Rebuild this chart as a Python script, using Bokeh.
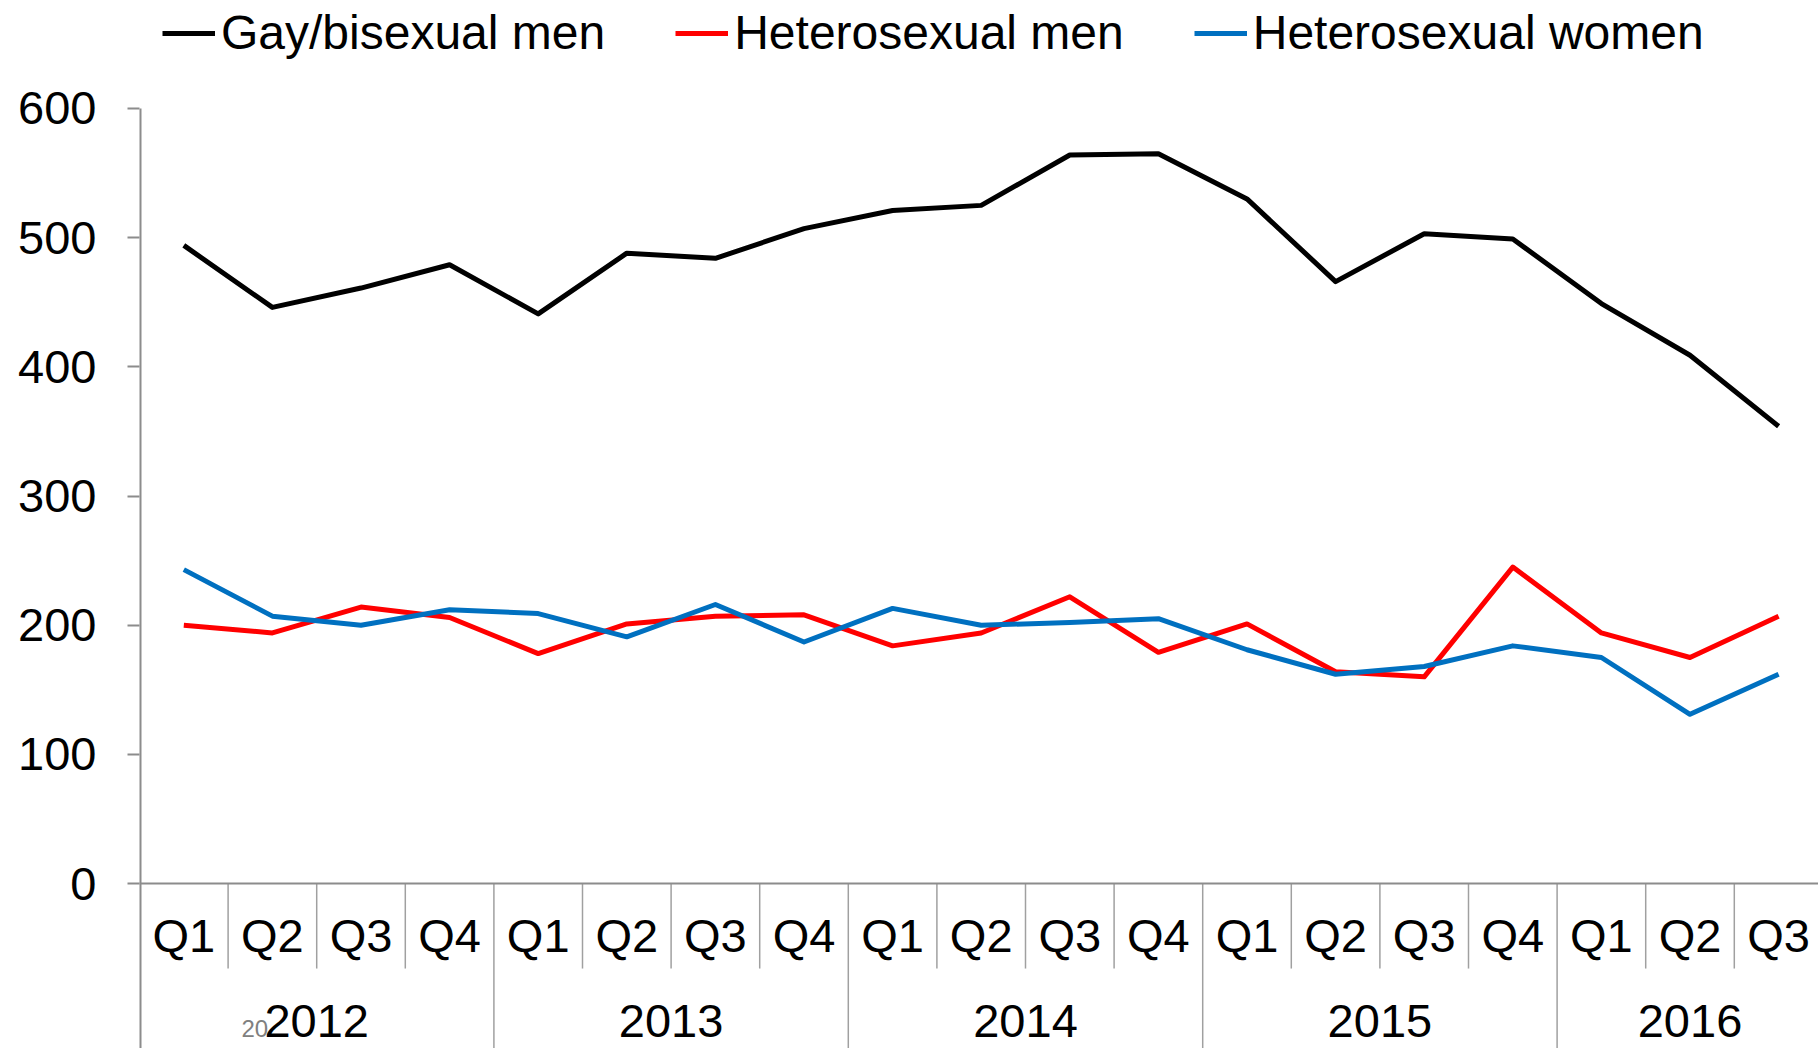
from bokeh.plotting import figure
from bokeh.models import Range1d, FixedTicker, Span, Legend, LegendItem, ColumnDataSource
from bokeh.core.properties import value
from bokeh.embed import file_html
from bokeh.resources import INLINE

# ---------------- data ----------------
years = ["2012", "2013", "2014", "2015", "2016"]
quarters_per_year = [4, 4, 4, 4, 3]
quarter_labels = ["Q1", "Q2", "Q3", "Q4"] * 4 + ["Q1", "Q2", "Q3"]
gay_bisexual_men = [494, 446, 461, 479, 441, 488, 484, 507, 521, 525, 564, 565,
                    530, 466, 503, 499, 449, 409, 354]
heterosexual_men = [200, 194, 214, 206, 178, 201, 207, 208, 184, 194, 222, 179,
                    201, 164, 160, 245, 194, 175, 207]
heterosexual_women = [243, 207, 200, 212, 209, 191, 216, 187, 213, 200, 202, 205,
                      181, 162, 168, 184, 175, 131, 162]
y_ticks = [0, 100, 200, 300, 400, 500, 600]
stray_label = "20"

# ---------------- layout / style ----------------
W, H = 1818, 1048
LEFT = 139
FONT = "Liberation Sans"
AXIS_GRAY = "#8c8c8c"
SEP_GRAY = "#a0a0a0"
Y_AXIS_TOP = 600
Y_RANGE_TOP = 683.6
Y_BOTTOM = -127.7
X_END = 18.5 - (LEFT + 19 * 88.6 - W) / 88.6
Q_LABEL_Y = -40
YEAR_LABEL_Y = -106.5
Q_SEP_BOTTOM = -65.8

n = len(quarter_labels)
xs = list(range(n))

p = figure(width=W, height=H, x_range=Range1d(-0.5, X_END),
           y_range=Range1d(Y_BOTTOM, Y_RANGE_TOP),
           output_backend="svg", toolbar_location=None,
           x_axis_location=None,
           min_border_left=LEFT, min_border_top=0,
           min_border_right=0, min_border_bottom=0)
p.outline_line_color = None
p.xgrid.visible = False
p.ygrid.visible = False
p.background_fill_color = "white"
p.border_fill_color = "white"

yax = p.yaxis[0]
yax.ticker = FixedTicker(ticks=y_ticks)
yax.axis_line_color = None
yax.major_tick_line_color = AXIS_GRAY
yax.major_tick_line_width = 2
yax.major_tick_out = 12
yax.major_tick_in = 0
yax.minor_tick_line_color = None
yax.major_label_standoff = 31
yax.major_label_text_font = FONT
yax.major_label_text_font_size = "47px"
yax.major_label_text_color = "black"

# y axis line: from the top tick down to the bottom (continues as category border)
p.segment(x0=[-0.5], x1=[-0.5], y0=[Y_AXIS_TOP], y1=[Y_BOTTOM - 50],
          line_color=AXIS_GRAY, line_width=4)
# x axis line at zero
p.add_layout(Span(location=0, dimension="width", line_color=AXIS_GRAY, line_width=2))

# category separators
year_starts = []
acc = 0
for q in quarters_per_year:
    year_starts.append(acc)
    acc += q
q_sep_x = [k - 0.5 for k in range(1, n + 1) if k not in year_starts]
y_sep_x = [k - 0.5 for k in year_starts[1:]] + [n - 0.5]
p.segment(x0=q_sep_x, x1=q_sep_x, y0=[0] * len(q_sep_x), y1=[Q_SEP_BOTTOM] * len(q_sep_x),
          line_color=SEP_GRAY, line_width=1.5)
p.segment(x0=y_sep_x, x1=y_sep_x, y0=[0] * len(y_sep_x), y1=[Y_BOTTOM - 50] * len(y_sep_x),
          line_color=SEP_GRAY, line_width=1.5)

# category labels
p.text(x=xs, y=[Q_LABEL_Y] * n, text=quarter_labels,
       text_font=value(FONT), text_font_size="47px", text_color="black",
       text_align="center", text_baseline="middle")
year_centers = [s + (q - 1) / 2 for s, q in zip(year_starts, quarters_per_year)]
p.text(x=year_centers, y=[YEAR_LABEL_Y] * len(years), text=years,
       text_font=value(FONT), text_font_size="47px", text_color="black",
       text_align="center", text_baseline="middle")
p.text(x=[0.65], y=[-112.5], text=[stray_label], text_font=value(FONT),
       text_font_size="24px", text_color="#808080",
       text_align="left", text_baseline="middle")

# series
src = ColumnDataSource(dict(x=xs, gay=gay_bisexual_men, hm=heterosexual_men, hw=heterosexual_women))
r_gay = p.line("x", "gay", source=src, line_color="black", line_width=5, line_join="round")
r_hm = p.line("x", "hm", source=src, line_color="#ff0000", line_width=5, line_join="round")
r_hw = p.line("x", "hw", source=src, line_color="#0070c0", line_width=5, line_join="round")

legend = Legend(items=[LegendItem(label="Gay/bisexual men", renderers=[r_gay]),
                       LegendItem(label="Heterosexual men", renderers=[r_hm]),
                       LegendItem(label="Heterosexual women", renderers=[r_hw])],
                orientation="horizontal", location=(23, 988),
                padding=0, margin=0, spacing=70,
                glyph_width=53, glyph_height=20, label_standoff=6,
                label_text_font=FONT, label_text_font_size="48px",
                label_text_color="black",
                border_line_color=None, background_fill_alpha=0)
p.add_layout(legend)

open("out.html", "w").write(file_html(p, INLINE))
